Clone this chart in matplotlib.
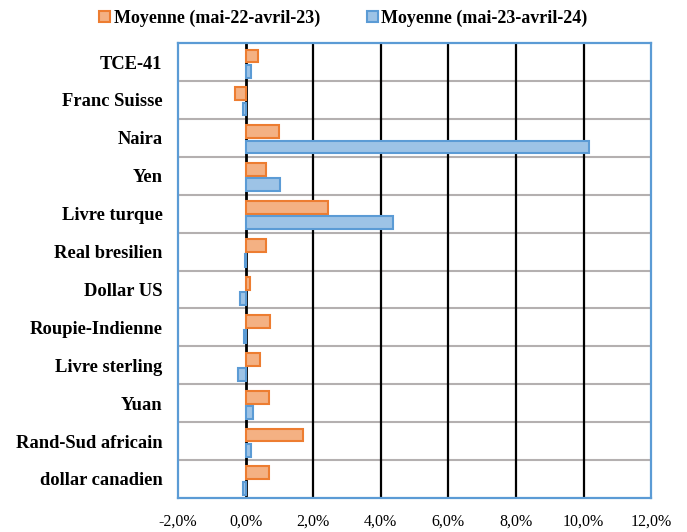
import matplotlib.pyplot as plt
import numpy as np
from matplotlib.ticker import FuncFormatter

plt.rcParams['font.family'] = ['Liberation Serif', 'DejaVu Serif']

# categories, bottom to top
devises = ['dollar canadien', 'Rand-Sud africain', 'Yuan', 'Livre sterling',
           'Roupie-Indienne', 'Dollar US', 'Real bresilien', 'Livre turque',
           'Yen', 'Naira', 'Franc Suisse', 'TCE-41']
moy_22_23 = [0.68, 1.70, 0.70, 0.43, 0.73, 0.13, 0.60, 2.43, 0.60, 1.00, -0.30, 0.38]
moy_23_24 = [-0.07, 0.15, 0.23, -0.23, -0.05, -0.17, -0.02, 4.35, 1.03, 10.15, -0.08, 0.15]
labels = ['Moyenne (mai-22-avril-23)', 'Moyenne (mai-23-avril-24)']

fig = plt.figure(figsize=(6.87, 5.32), dpi=100)
ax = fig.add_axes([0.259, 0.064, 0.689, 0.855])

y = np.arange(len(devises))
h = 0.34
ax.barh(y + 0.16, moy_22_23, height=h, color='#F4B183', edgecolor='#ED7D31',
        linewidth=1.5, label=labels[0], zorder=3)
ax.barh(y - 0.24, moy_23_24, height=h, color='#9DC3E6', edgecolor='#5B9BD5',
        linewidth=1.5, label=labels[1], zorder=3)

ax.set_xlim(-2, 12)
ax.set_ylim(-0.5, len(devises) - 0.5)
ax.set_xticks(np.arange(-2, 13, 2))
ax.xaxis.set_major_formatter(FuncFormatter(lambda v, p: ('%.1f%%' % v).replace('.', ',')))
ax.set_yticks(y)
ax.set_yticklabels(devises, fontweight='bold', fontsize=13.3)
ax.tick_params(axis='x', length=0, labelsize=11.5, pad=11)
ax.tick_params(axis='y', length=0, pad=11)

# grid lines
for xv in np.arange(0, 12, 2):
    ax.axvline(xv, color='black', lw=1.6 if xv else 2.0, zorder=2)
for yv in np.arange(0.5, len(devises) - 0.5, 1):
    ax.axhline(yv, color='#B4B0B0', lw=1.5, zorder=1)

for s in ax.spines.values():
    s.set_color('#5B9BD5')
    s.set_linewidth(1.6)

fig.legend(loc='upper center', bbox_to_anchor=(0.50, 1.012), ncol=2, frameon=False,
           prop={'weight': 'bold', 'size': 13}, handlelength=0.6, handleheight=0.6,
           handletextpad=0.2, columnspacing=2.6)

fig.savefig('out.png', dpi=100)
